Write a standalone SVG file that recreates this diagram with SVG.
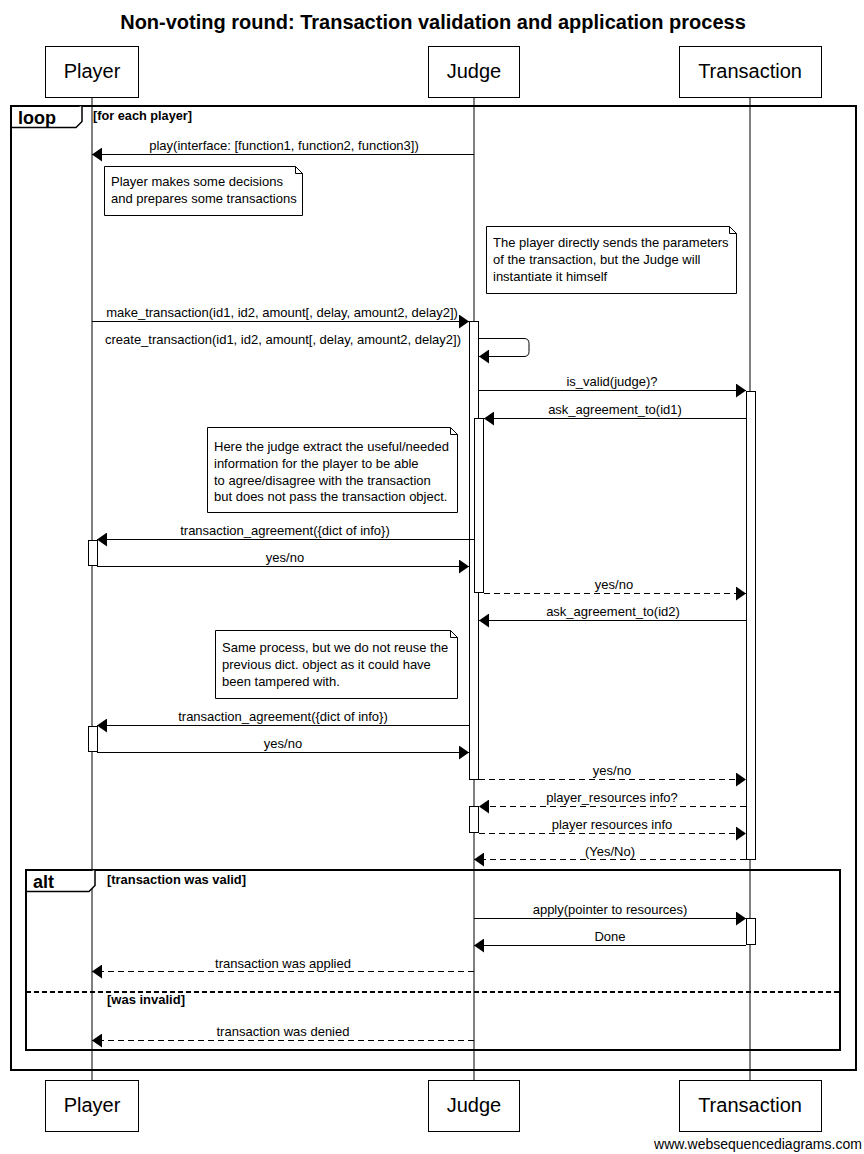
<svg xmlns="http://www.w3.org/2000/svg" width="864" height="1154" viewBox="0 0 864 1154">
  <style>
    text { font-family: "Liberation Sans", Arial, sans-serif; fill: #000; }
    .title { font-size: 20px; font-weight: bold; text-anchor: middle; }
    .pname { font-size: 20px; text-anchor: middle; }
    .lbl { font-size: 13px; text-anchor: middle; }
    .note-t { font-size: 13px; }
    .frame-k { font-size: 18px; font-weight: bold; }
    .cond { font-size: 12px; font-weight: bold; }
    .credit { font-size: 14px; text-anchor: middle; }
    .box { fill: #fff; stroke: #000; stroke-width: 1; }
    .life { stroke: #000; stroke-width: 1; }
    .act { fill: #fff; stroke: #000; stroke-width: 1; }
    .msg { stroke: #000; stroke-width: 1; fill: none; marker-end: url(#arr); }
    .ret { stroke: #000; stroke-width: 1; fill: none; stroke-dasharray: 6 4; marker-end: url(#arr); }
    .frame { fill: none; stroke: #000; stroke-width: 2; }
    .tab { fill: #fff; stroke: #000; stroke-width: 1.5; }
    .note { fill: #fff; stroke: #000; stroke-width: 1; }
    .sep { stroke: #000; stroke-width: 2; stroke-dasharray: 5 3; }
  </style>
  <defs>
    <marker id="arr" viewBox="0 0 10 14" refX="10" refY="7" markerWidth="10" markerHeight="14" markerUnits="userSpaceOnUse" orient="auto">
      <path d="M0,0 L10,7 L0,14 z" fill="#000"/>
    </marker>
  </defs>

  <rect width="864" height="1154" fill="#fff"/>

  <text class="title" x="433" y="29">Non-voting round: Transaction validation and application process</text>

  <!-- lifelines -->
  <g id="lifelines">
    <line class="life" x1="92" y1="97" x2="92" y2="1080"/>
    <line class="life" x1="474" y1="97" x2="474" y2="1080"/>
    <line class="life" x1="750" y1="97" x2="750" y2="1080"/>
  </g>

  <!-- participants, top and bottom -->
  <g id="player">
    <rect class="box" x="45.5" y="46.5" width="93" height="51"/>
    <text class="pname" x="92" y="78">Player</text>
    <rect class="box" x="45.5" y="1080.5" width="93" height="51"/>
    <text class="pname" x="92" y="1112">Player</text>
  </g>
  <g id="judge">
    <rect class="box" x="428.5" y="46.5" width="91" height="51"/>
    <text class="pname" x="474" y="78">Judge</text>
    <rect class="box" x="428.5" y="1080.5" width="91" height="51"/>
    <text class="pname" x="474" y="1112">Judge</text>
  </g>
  <g id="transaction">
    <rect class="box" x="679.5" y="46.5" width="142" height="51"/>
    <text class="pname" x="750" y="78">Transaction</text>
    <rect class="box" x="679.5" y="1080.5" width="142" height="51"/>
    <text class="pname" x="750" y="1112">Transaction</text>
  </g>

  <!-- loop frame -->
  <g id="loop-frame">
    <rect class="frame" x="11" y="106" width="845" height="964"/>
    <path class="tab" d="M11,127.5 L76,127.5 L82,121.5 L82,106"/>
    <text class="frame-k" x="18" y="124">loop</text>
    <text class="cond" x="93" y="120" textLength="99" lengthAdjust="spacingAndGlyphs">[for each player]</text>
  </g>

  <!-- alt frame -->
  <g id="alt-frame">
    <rect class="frame" x="26" y="870" width="814" height="180"/>
    <path class="tab" d="M26,891.5 L89,891.5 L95,885.5 L95,870"/>
    <text class="frame-k" x="33" y="888">alt</text>
    <text class="cond" x="107" y="884" textLength="139" lengthAdjust="spacingAndGlyphs">[transaction was valid]</text>
    <line class="sep" x1="26" y1="992" x2="840" y2="992"/>
    <text class="cond" x="107" y="1004" textLength="78" lengthAdjust="spacingAndGlyphs">[was invalid]</text>
  </g>

  <!-- activation bars -->
  <g id="activations">
    <rect class="act" x="469.5" y="321.5" width="9" height="458"/>
    <rect class="act" x="474.5" y="418.5" width="9" height="174"/>
    <rect class="act" x="469.5" y="806.5" width="9" height="26"/>
    <rect class="act" x="746.5" y="391.5" width="9" height="468"/>
    <rect class="act" x="746.5" y="918.5" width="9" height="26"/>
    <rect class="act" x="88.5" y="540.5" width="9" height="25"/>
    <rect class="act" x="88.5" y="726.5" width="9" height="25"/>
  </g>

  <!-- notes -->
  <g id="note-decisions">
    <path class="note" d="M104.5,166.5 H295.5 L302.5,173.5 V215.5 H104.5 Z M295.5,166.5 V173.5 H302.5"/>
    <text class="note-t" x="111" y="186">Player makes some decisions</text>
    <text class="note-t" x="111" y="203">and prepares some transactions</text>
  </g>
  <g id="note-parameters">
    <path class="note" d="M486.5,226.5 H729.5 L736.5,233.5 V293.5 H486.5 Z M729.5,226.5 V233.5 H736.5"/>
    <text class="note-t" x="493" y="247">The player directly sends the parameters</text>
    <text class="note-t" x="493" y="264">of the transaction, but the Judge will</text>
    <text class="note-t" x="493" y="281">instantiate it himself</text>
  </g>
  <g id="note-extract">
    <path class="note" d="M207.5,427.5 H450.5 L457.5,434.5 V512.5 H207.5 Z M450.5,427.5 V434.5 H457.5"/>
    <text class="note-t" x="214" y="451">Here the judge extract the useful/needed</text>
    <text class="note-t" x="214" y="468">information for the player to be able</text>
    <text class="note-t" x="214" y="485">to agree/disagree with the transaction</text>
    <text class="note-t" x="214" y="501">but does not pass the transaction object.</text>
  </g>
  <g id="note-reuse">
    <path class="note" d="M215.5,630.5 H450.5 L457.5,637.5 V698.5 H215.5 Z M450.5,630.5 V637.5 H457.5"/>
    <text class="note-t" x="222" y="652">Same process, but we do not reuse the</text>
    <text class="note-t" x="222" y="669">previous dict. object as it could have</text>
    <text class="note-t" x="222" y="686">been tampered with.</text>
  </g>

  <!-- connectors -->
  <g id="connectors">
    <line class="msg" x1="474" y1="154.5" x2="92" y2="154.5"/>
    <text class="lbl" x="284" y="150">play(interface: [function1, function2, function3])</text>

    <line class="msg" x1="92" y1="321.5" x2="469" y2="321.5"/>
    <text class="lbl" x="282" y="317">make_transaction(id1, id2, amount[, delay, amount2, delay2])</text>

    <path class="msg" d="M479,338.5 H524 Q529,338.5 529,343.5 V351.5 Q529,356.5 524,356.5 H479"/>
    <text class="lbl" x="283" y="344">create_transaction(id1, id2, amount[, delay, amount2, delay2])</text>

    <line class="msg" x1="479" y1="390.5" x2="746" y2="390.5"/>
    <text class="lbl" x="612" y="386">is_valid(judge)?</text>

    <line class="msg" x1="746" y1="418.5" x2="484" y2="418.5"/>
    <text class="lbl" x="615" y="414">ask_agreement_to(id1)</text>

    <line class="msg" x1="474" y1="539.5" x2="97" y2="539.5"/>
    <text class="lbl" x="285" y="535">transaction_agreement({dict of info})</text>

    <line class="msg" x1="97" y1="566.5" x2="469" y2="566.5"/>
    <text class="lbl" x="285" y="562">yes/no</text>

    <line class="ret" x1="484" y1="593.5" x2="746" y2="593.5"/>
    <text class="lbl" x="614" y="589">yes/no</text>

    <line class="msg" x1="746" y1="620.5" x2="479" y2="620.5"/>
    <text class="lbl" x="613" y="616">ask_agreement_to(id2)</text>

    <line class="msg" x1="469" y1="725.5" x2="97" y2="725.5"/>
    <text class="lbl" x="283" y="721">transaction_agreement({dict of info})</text>

    <line class="msg" x1="97" y1="752.5" x2="469" y2="752.5"/>
    <text class="lbl" x="283" y="748">yes/no</text>

    <line class="ret" x1="479" y1="779.5" x2="746" y2="779.5"/>
    <text class="lbl" x="612" y="775">yes/no</text>

    <line class="ret" x1="746" y1="806.5" x2="479" y2="806.5"/>
    <text class="lbl" x="612" y="802">player_resources info?</text>

    <line class="ret" x1="479" y1="833.5" x2="746" y2="833.5"/>
    <text class="lbl" x="612" y="829">player resources info</text>

    <line class="ret" x1="746" y1="859.5" x2="474" y2="859.5"/>
    <text class="lbl" x="610" y="856">(Yes/No)</text>

    <line class="msg" x1="474" y1="918.5" x2="746" y2="918.5"/>
    <text class="lbl" x="610" y="914">apply(pointer to resources)</text>

    <line class="msg" x1="746" y1="945.5" x2="474" y2="945.5"/>
    <text class="lbl" x="610" y="941">Done</text>

    <line class="ret" x1="474" y1="971.5" x2="92" y2="971.5"/>
    <text class="lbl" x="283" y="968">transaction was applied</text>

    <line class="ret" x1="474" y1="1040.5" x2="92" y2="1040.5"/>
    <text class="lbl" x="283" y="1036">transaction was denied</text>
  </g>

  <text class="credit" x="758" y="1149">www.websequencediagrams.com</text>
</svg>
